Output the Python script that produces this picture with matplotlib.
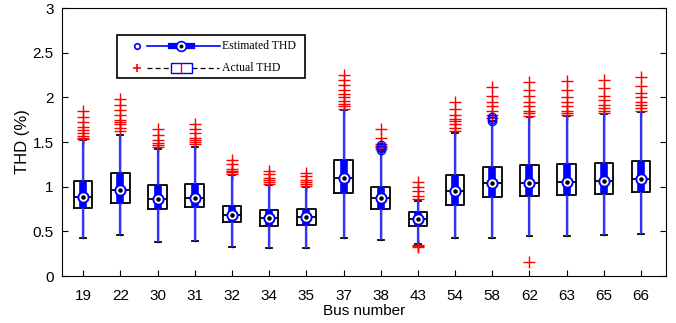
import numpy as np
import matplotlib.pyplot as plt
from matplotlib.patches import Rectangle

buses = ['19', '22', '30', '31', '32', '34', '35', '37', '38', '43', '54', '58', '62', '63', '65', '66']

# actual THD box stats (%)
q1 = [0.76, 0.82, 0.75, 0.77, 0.60, 0.56, 0.57, 0.93, 0.75, 0.56, 0.80, 0.89, 0.90, 0.91, 0.92, 0.94]
med = [0.88, 0.96, 0.86, 0.87, 0.68, 0.65, 0.66, 1.10, 0.87, 0.64, 0.95, 1.04, 1.04, 1.05, 1.06, 1.09]
q3 = [1.06, 1.15, 1.02, 1.03, 0.78, 0.74, 0.75, 1.30, 1.00, 0.72, 1.13, 1.22, 1.24, 1.25, 1.26, 1.29]
wlo = [0.43, 0.46, 0.38, 0.39, 0.33, 0.31, 0.31, 0.42, 0.40, 0.36, 0.42, 0.42, 0.45, 0.45, 0.46, 0.47]
whi = [1.52, 1.58, 1.42, 1.45, 1.13, 1.02, 1.00, 1.86, 1.40, 0.84, 1.60, 1.74, 1.78, 1.79, 1.81, 1.84]
fliers = [
    [1.53, 1.55, 1.57, 1.60, 1.63, 1.67, 1.72, 1.78, 1.85],
    [1.62, 1.66, 1.70, 1.72, 1.75, 1.80, 1.86, 1.92, 1.98],
    [1.45, 1.47, 1.49, 1.52, 1.58, 1.65],
    [1.48, 1.50, 1.52, 1.55, 1.60, 1.65, 1.70],
    [1.14, 1.16, 1.18, 1.20, 1.25, 1.30],
    [1.03, 1.05, 1.07, 1.10, 1.14, 1.18],
    [1.01, 1.03, 1.05, 1.08, 1.12, 1.15],
    [1.87, 1.90, 1.93, 1.96, 2.00, 2.04, 2.08, 2.14, 2.19, 2.25],
    [1.42, 1.44, 1.46, 1.48, 1.55, 1.65],
    [0.32, 0.34, 0.35, 0.86, 0.90, 0.95, 1.00, 1.05],
    [1.62, 1.66, 1.70, 1.73, 1.76, 1.80, 1.87, 1.95],
    [1.77, 1.80, 1.85, 1.90, 1.95, 2.02, 2.12],
    [0.16, 1.79, 1.82, 1.85, 1.90, 1.95, 2.02, 2.08, 2.17],
    [1.80, 1.82, 1.85, 1.90, 1.95, 2.00, 2.08, 2.18],
    [1.82, 1.85, 1.88, 1.92, 1.97, 2.02, 2.10, 2.20],
    [1.85, 1.88, 1.92, 1.95, 2.00, 2.05, 2.13, 2.23],
]
# estimated THD outliers (blue circles)
est_fliers = [[], [], [], [], [], [], [], [], [1.41, 1.43, 1.45, 1.47], [], [], [1.74, 1.76, 1.78], [], [], [], []]

x = np.arange(1, len(buses) + 1)

fig = plt.figure(figsize=(6.76, 3.23), dpi=100)
ax = fig.add_axes([0.0917, 0.1455, 0.8935, 0.8295])

stats = []
for i in range(len(buses)):
    stats.append(dict(med=med[i], q1=q1[i], q3=q3[i], whislo=wlo[i], whishi=whi[i], fliers=fliers[i]))

ax.bxp(stats, positions=x, widths=0.5, showfliers=True,
       boxprops=dict(color='black', linewidth=1.3),
       medianprops=dict(color='black', linewidth=1.3),
       whiskerprops=dict(color='black', linewidth=1.0),
       capprops=dict(color='black', linewidth=1.3),
       capwidths=0.16,
       flierprops=dict(marker='+', markeredgecolor='red', markersize=8, markeredgewidth=1.0, linestyle='none'))

# estimated THD: compact style
ax.vlines(x, wlo, whi, color='#3333ff', linewidth=1.6, zorder=3)
ax.vlines(x, q1, q3, color='#0000ff', linewidth=5.5, zorder=4)
ax.scatter(x, med, s=55, facecolor='white', edgecolor='#0000ff', linewidth=1.4, zorder=5)
ax.scatter(x, med, s=5, color='black', zorder=6)
for i, f in enumerate(est_fliers):
    if f:
        ax.plot([x[i]] * len(f), f, 'o', mfc='none', mec='#0000ff', ms=6, mew=1.0, zorder=5)

ax.set_xlim(0.43, 16.67)
ax.set_ylim(0, 3)
ax.set_xticks(x)
ax.set_xticklabels(buses)
ax.set_yticks(np.arange(0, 3.01, 0.5))
ax.set_yticklabels(['0', '0.5', '1', '1.5', '2', '2.5', '3'])
ax.tick_params(direction='in', top=False, right=True, labelsize=11, length=4)
ax.tick_params(axis='x', pad=9)
ax.tick_params(axis='y', pad=6)
for lab in ax.get_xticklabels() + ax.get_yticklabels():
    lab.set_family('Liberation Sans')
ax.set_xlabel('Bus number', family='Liberation Sans', fontsize=11, labelpad=1)
ax.set_ylabel('THD (%)', family='Liberation Sans', fontsize=12, labelpad=2)

# legend drawn by hand
T = ax.transAxes
ax.add_patch(Rectangle((0.091, 0.739), 0.311, 0.16, transform=T, fill=False, edgecolor='black', linewidth=1.2, zorder=7))
y1, y2 = 0.857, 0.776
ax.plot([0.124], [y1], 'o', transform=T, mfc='none', mec='#0000ff', ms=4, mew=1.2, zorder=8)
ax.plot([0.14, 0.262], [y1, y1], transform=T, color='#0000ff', lw=1.2, zorder=8)
ax.plot([0.18, 0.215], [y1, y1], transform=T, color='#0000ff', lw=4.5, zorder=8)
ax.plot([0.197], [y1], 'o', transform=T, mfc='white', mec='#0000ff', ms=7, mew=1.2, zorder=9)
ax.plot([0.197], [y1], 'o', transform=T, color='black', ms=1.8, zorder=10)
ax.text(0.265, y1, 'Estimated THD', transform=T, va='center', family='Liberation Serif', fontsize=8.5, zorder=8)

ax.plot([0.124], [y2], '+', transform=T, mec='red', ms=6, mew=1.2, zorder=8)
ax.plot([0.14, 0.18], [y2, y2], transform=T, color='black', lw=0.9, ls=(0, (4, 2.5)), zorder=8)
ax.plot([0.215, 0.26], [y2, y2], transform=T, color='black', lw=0.9, ls=(0, (4, 2.5)), zorder=8)
ax.add_patch(Rectangle((0.18, y2 - 0.018), 0.035, 0.036, transform=T, fill=False, edgecolor='#0000ff', lw=1.0, zorder=8))
ax.plot([0.197, 0.197], [y2 - 0.018, y2 + 0.018], transform=T, color='red', lw=1.0, zorder=9)
ax.text(0.265, y2, 'Actual THD', transform=T, va='center', family='Liberation Serif', fontsize=8.5, zorder=8)

fig.savefig('out.png', dpi=100)
